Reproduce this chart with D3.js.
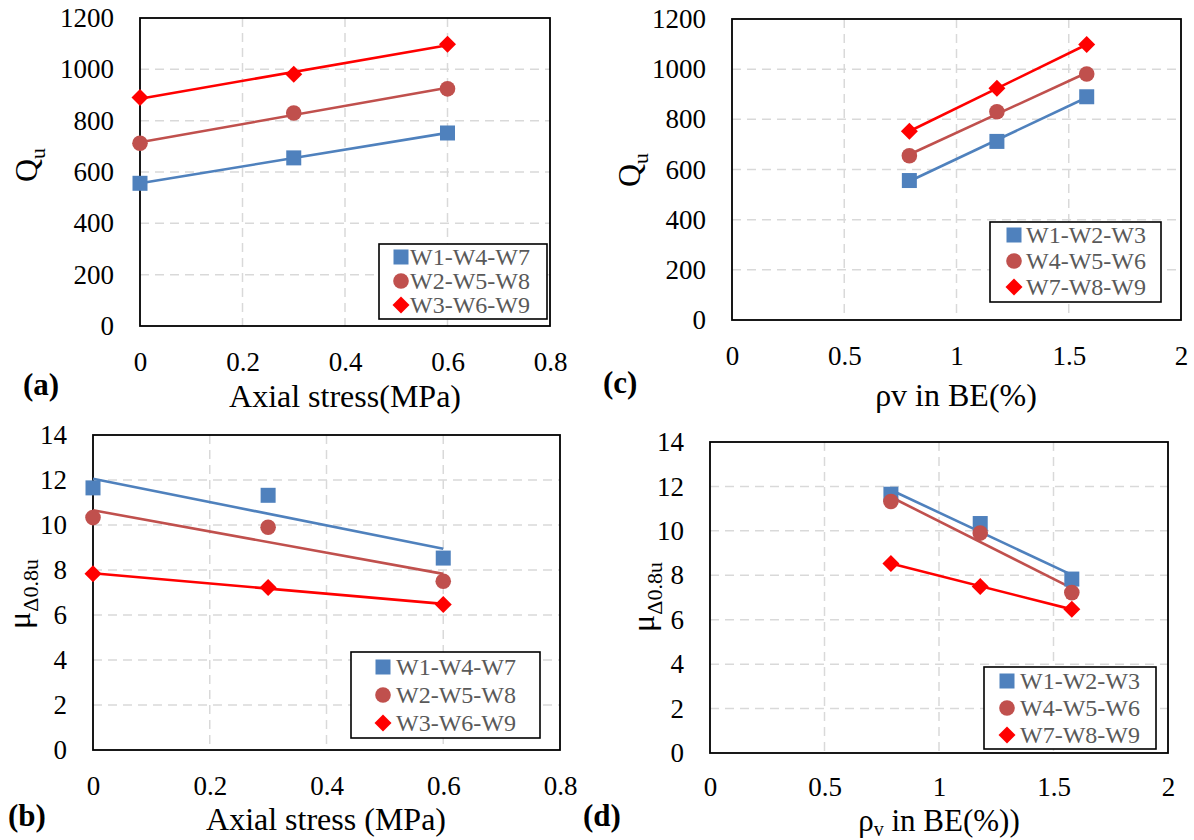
<!DOCTYPE html>
<html>
<head>
<meta charset="utf-8">
<script src="https://cdn.jsdelivr.net/npm/d3@7"></script>
<style>
  html, body { margin: 0; padding: 0; background: #ffffff; }
  svg { display: block; }
  svg text { font-family: "Liberation Serif", "Times New Roman", serif !important; }
</style>
</head>
<body>
<svg id="chart" width="1194" height="840"></svg>
<script>
// ---------------- DATA ----------------
const xAxial = [0, 0.3, 0.6];          // axial stress (MPa)
const xRho   = [0.79, 1.18, 1.58];     // rho_v in BE (%)

const axialTicks = [0, 0.2, 0.4, 0.6, 0.8];
const rhoTicks   = [0, 0.5, 1, 1.5, 2];
const quTicks    = [0, 200, 400, 600, 800, 1000, 1200];
const muTicks    = [0, 2, 4, 6, 8, 10, 12, 14];

// (a) Qu vs axial stress
const legendA = ["W1-W4-W7", "W2-W5-W8", "W3-W6-W9"];
const quA1 = [556, 655, 752];
const quA2 = [712, 830, 924];
const quA3 = [890, 981, 1098];

// (c) Qu vs rho_v
const legendC = ["W1-W2-W3", "W4-W5-W6", "W7-W8-W9"];
const quC1 = [556, 712, 890];
const quC2 = [655, 830, 981];
const quC3 = [752, 924, 1098];

// (b) mu vs axial stress
const legendB = ["W1-W4-W7", "W2-W5-W8", "W3-W6-W9"];
const muB1 = [11.65, 11.32, 8.53];
const muB2 = [10.33, 9.9, 7.5];
const muB3 = [7.83, 7.22, 6.47];

// (d) mu vs rho_v
const legendD = ["W1-W2-W3", "W4-W5-W6", "W7-W8-W9"];
const muD1 = [11.65, 10.33, 7.83];
const muD2 = [11.32, 9.9, 7.22];
const muD3 = [8.53, 7.5, 6.47];

const seriesColors = ["#4F81BD", "#C0504D", "#FF0000"];
const seriesShapes = ["square", "circle", "diamond"];

// ---------------- DRAWING ----------------
const svg = d3.select("#chart");
const FONT = "Liberation Serif, Times New Roman, serif";

function linReg(xs, ys) {
  const n = xs.length;
  const mx = d3.mean(xs), my = d3.mean(ys);
  let sxy = 0, sxx = 0;
  for (let i = 0; i < n; i++) { sxy += (xs[i] - mx) * (ys[i] - my); sxx += (xs[i] - mx) ** 2; }
  const b = sxy / sxx, a = my - b * mx;
  return x => a + b * x;
}

function marker(g, shape, cx, cy, color) {
  if (shape === "square") {
    g.append("rect").attr("x", cx - 7.5).attr("y", cy - 7.5).attr("width", 15).attr("height", 15)
      .attr("fill", color);
  } else if (shape === "circle") {
    g.append("circle").attr("cx", cx).attr("cy", cy).attr("r", 7.8).attr("fill", color);
  } else {
    const r = 8.5;
    g.append("path").attr("d", `M${cx},${cy - r}L${cx + r},${cy}L${cx},${cy + r}L${cx - r},${cy}Z`)
      .attr("fill", color);
  }
}

function panel(cfg) {
  const g = svg.append("g");
  const x = d3.scaleLinear().domain(cfg.xDomain).range([cfg.left, cfg.right]);
  const y = d3.scaleLinear().domain(cfg.yDomain).range([cfg.bottom, cfg.top]);

  // gridlines
  const xg = cfg.xTicks.slice(1, -1), yg = cfg.yTicks.slice(1, -1);
  g.selectAll(".vg").data(xg).join("line")
    .attr("x1", d => x(d)).attr("x2", d => x(d)).attr("y1", cfg.top).attr("y2", cfg.bottom)
    .attr("stroke", "#D9D9D9").attr("stroke-width", 1.5).attr("stroke-dasharray", "9,6");
  g.selectAll(".hg").data(yg).join("line")
    .attr("x1", cfg.left).attr("x2", cfg.right).attr("y1", d => y(d)).attr("y2", d => y(d))
    .attr("stroke", "#D9D9D9").attr("stroke-width", 1.5).attr("stroke-dasharray", "9,6");

  // frame
  g.append("rect").attr("x", cfg.left).attr("y", cfg.top)
    .attr("width", cfg.right - cfg.left).attr("height", cfg.bottom - cfg.top)
    .attr("fill", "none").attr("stroke", "#000").attr("stroke-width", 1.8);

  // axes
  const fmt = d => String(d);
  const ax = g.append("g").attr("transform", `translate(0,${cfg.bottom})`)
    .call(d3.axisBottom(x).tickValues(cfg.xTicks).tickFormat(fmt).tickSize(0).tickPadding(cfg.xPad || 26));
  const ay = g.append("g").attr("transform", `translate(${cfg.left},0)`)
    .call(d3.axisLeft(y).tickValues(cfg.yTicks).tickFormat(fmt).tickSize(0).tickPadding(26));
  [ax, ay].forEach(a => {
    a.attr("font-family", FONT).attr("font-size", 27);
    a.select(".domain").remove();
    a.selectAll("text").attr("font-size", 27).attr("fill", "#000");
  });

  // trendlines
  cfg.series.forEach((ys, i) => {
    const f = linReg(cfg.xs, ys);
    const x0 = d3.min(cfg.xs), x1 = d3.max(cfg.xs);
    g.append("line").attr("x1", x(x0)).attr("y1", y(f(x0))).attr("x2", x(x1)).attr("y2", y(f(x1)))
      .attr("stroke", seriesColors[i]).attr("stroke-width", 2.6);
  });
  // markers
  cfg.series.forEach((ys, i) => {
    cfg.xs.forEach((xv, j) => marker(g, seriesShapes[i], x(xv), y(ys[j]), seriesColors[i]));
  });

  // legend
  const L = cfg.legend;
  g.append("rect").attr("x", L.x).attr("y", L.y).attr("width", L.w).attr("height", L.h)
    .attr("fill", "#fff").attr("stroke", "#000").attr("stroke-width", 1.6);
  cfg.names.forEach((name, i) => {
    const cy = L.y + L.first + i * L.step;
    marker(g, seriesShapes[i], L.x + L.mx, cy, seriesColors[i]);
    g.append("text").attr("x", L.x + L.tx).attr("y", cy).attr("dy", "0.34em")
      .attr("font-size", 24).attr("fill", "#595959").text(name);
  });

  // x title
  const xt = g.append("text").attr("x", cfg.xTitle.x).attr("y", cfg.xTitle.y)
    .attr("text-anchor", "middle").attr("font-size", cfg.xTitle.size || 32).attr("fill", "#000");
  cfg.xTitle.parts.forEach(p => {
    const t = xt.append("tspan").text(p.t);
    if (p.sub) t.attr("font-size", 20).attr("dy", 5);
    else if (p.after) t.attr("dy", -5);
  });

  // y title (rotated)
  const yt = g.append("text").attr("transform", `translate(${cfg.yTitle.x},${cfg.yTitle.y}) rotate(-90)`)
    .attr("text-anchor", "middle").attr("font-size", 32).attr("fill", "#000");
  cfg.yTitle.parts.forEach(p => {
    const t = yt.append("tspan").text(p.t);
    if (p.sub) t.attr("font-size", 22).attr("dy", 8);
  });

  // panel label
  g.append("text").attr("x", cfg.label.x).attr("y", cfg.label.y)
    .attr("font-size", 31).attr("font-weight", "bold").attr("fill", "#000")
    .text(cfg.label.t);
}

// (a)
panel({
  left: 140, right: 550, top: 18, bottom: 326,
  xDomain: [0, 0.8], xTicks: axialTicks, yDomain: [0, 1200], yTicks: quTicks,
  xs: xAxial, series: [quA1, quA2, quA3], names: legendA,
  legend: { x: 379, y: 244, w: 168, h: 75, first: 13, step: 24, mx: 22, tx: 31 },
  xTitle: { x: 345, y: 407, parts: [{ t: "Axial stress(MPa)" }] },
  yTitle: { x: 37, y: 165, parts: [{ t: "Q" }, { t: "u", sub: true }] },
  label: { x: 23, y: 395, t: "(a)" }
});

// (c)
panel({
  left: 732, right: 1181, top: 19, bottom: 320,
  xDomain: [0, 2], xTicks: rhoTicks, yDomain: [0, 1200], yTicks: quTicks,
  xs: xRho, series: [quC1, quC2, quC3], names: legendC,
  legend: { x: 990, y: 222, w: 171, h: 80, first: 13, step: 26, mx: 24, tx: 36 },
  xTitle: { x: 956, y: 406, parts: [{ t: "ρv in BE(%)" }] },
  yTitle: { x: 640, y: 170, parts: [{ t: "Q" }, { t: "u", sub: true }] },
  label: { x: 603, y: 393, t: "(c)" }
});

// (b)
panel({
  left: 93, right: 560, top: 435, bottom: 750,
  xDomain: [0, 0.8], xTicks: axialTicks, yDomain: [0, 14], yTicks: muTicks,
  xs: xAxial, series: [muB1, muB2, muB3], names: legendB,
  legend: { x: 351, y: 652, w: 189, h: 86, first: 15, step: 28, mx: 32, tx: 45 },
  xTitle: { x: 326, y: 830, parts: [{ t: "Axial stress (MPa)" }] },
  yTitle: { x: 30, y: 594, parts: [{ t: "μ" }, { t: "Δ0.8u", sub: true }] },
  label: { x: 8, y: 826, t: "(b)" }
});

// (d)
panel({
  left: 710, right: 1168, top: 442, bottom: 753, xPad: 24,
  xDomain: [0, 2], xTicks: rhoTicks, yDomain: [0, 14], yTicks: muTicks,
  xs: xRho, series: [muD1, muD2, muD3], names: legendD,
  legend: { x: 984, y: 667, w: 172, h: 82, first: 14, step: 27, mx: 23, tx: 36 },
  xTitle: { x: 939, y: 830.5, size: 31, parts: [{ t: "ρ" }, { t: "v", sub: true }, { t: " in BE(%))", after: true }] },
  yTitle: { x: 654, y: 597, parts: [{ t: "μ" }, { t: "Δ0.8u", sub: true }] },
  label: { x: 583, y: 826, t: "(d)" }
});
</script>
</body>
</html>
